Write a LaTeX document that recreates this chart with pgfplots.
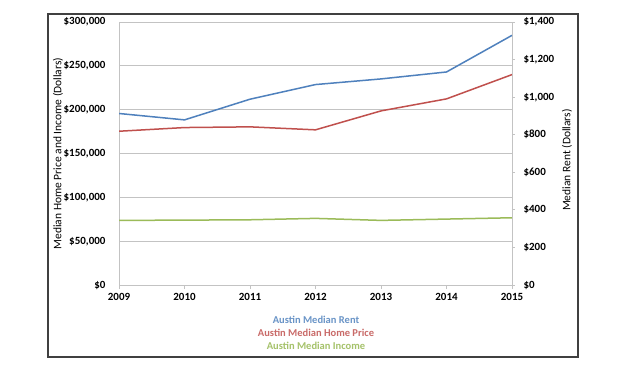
\documentclass[border=0pt]{standalone}
\usepackage{fontspec}
\setmainfont{Carlito}
\usepackage{pgfplots}
\pgfplotsset{compat=1.18}
\definecolor{rentblue}{RGB}{79,129,189}
\definecolor{homered}{RGB}{192,80,77}
\definecolor{incgreen}{RGB}{155,187,89}
\definecolor{gridgray}{RGB}{195,195,195}
\begin{document}
\begin{tikzpicture}[x=1pt,y=1pt]
\path[use as bounding box] (0,0) rectangle (620,365);
\fill[white] (0,0) rectangle (620,365);
\pgfplotsset{every axis/.append style={
  scale only axis, width=393pt, height=263pt, at={(119pt,80pt)}, anchor=south west,
  xmin=2009, xmax=2015, ymin=0,
  scaled y ticks=false,
  tick label style={font=\fontsize{11}{13}\selectfont\bfseries},
  label style={font=\fontsize{11.5}{13}\selectfont},
  axis line style={gridgray, line width=0.8pt},
  /pgf/number format/assume math mode=true,
}}
\begin{axis}[
  axis x line*=bottom, axis y line*=left,
  ymax=300000,
  xtick={2009,2010,2011,2012,2013,2014,2015},
  xticklabels={2009,2010,2011,2012,2013,2014,2015},
  xtick style={gridgray, line width=0.8pt},
  tick align=outside, major tick length=4pt,
  xticklabel style={yshift=-1pt},
  ytick={0,50000,100000,150000,200000,250000,300000},
  yticklabels={{\$0},{\$50,000},{\$100,000},{\$150,000},{\$200,000},{\$250,000},{\$300,000}},
  ytick style={draw=none},
  yticklabel style={xshift=-6pt},
  ymajorgrids, grid style={gridgray, line width=0.8pt},
  ylabel={Median Home Price and Income (Dollars)},
  ylabel style={at={(axis description cs:-0.155,0.5)}, anchor=center},
]
\addplot[homered, line width=1.5pt] coordinates {
  (2009,175400) (2010,179600) (2011,180400) (2012,177000) (2013,198600) (2014,212300) (2015,240000)};
\addplot[incgreen, line width=1.5pt] coordinates {
  (2009,73700) (2010,74000) (2011,74400) (2012,76000) (2013,73700) (2014,75200) (2015,76700)};
\end{axis}
\begin{axis}[
  axis x line=none, axis y line*=right,
  ymax=1400,
  ytick={0,200,400,600,800,1000,1200,1400},
  yticklabels={{\$0},{\$200},{\$400},{\$600},{\$800},{\$1,000},{\$1,200},{\$1,400}},
  ytick style={gridgray, line width=0.8pt},
  tick align=outside, major tick length=3pt,
  yticklabel style={xshift=5pt},
  ylabel={Median Rent (Dollars)},
  ylabel style={at={(axis description cs:1.14,0.475)}, anchor=center},
]
\addplot[rentblue, line width=1.5pt] coordinates {
  (2009,913) (2010,879) (2011,989) (2012,1067) (2013,1097) (2014,1134) (2015,1329)};
\end{axis}
\node[font=\fontsize{10.5}{12}\selectfont\bfseries, text=rentblue!85!white] at (316,45) {Austin Median Rent};
\node[font=\fontsize{10.5}{12}\selectfont\bfseries, text=homered!85!white] at (316,32) {Austin Median Home Price};
\node[font=\fontsize{10.5}{12}\selectfont\bfseries, text=incgreen!90!white] at (316,19) {Austin Median Income};
\draw[line width=1.2pt, black!75] (48,8) rectangle (578,351);
\end{tikzpicture}
\end{document}
